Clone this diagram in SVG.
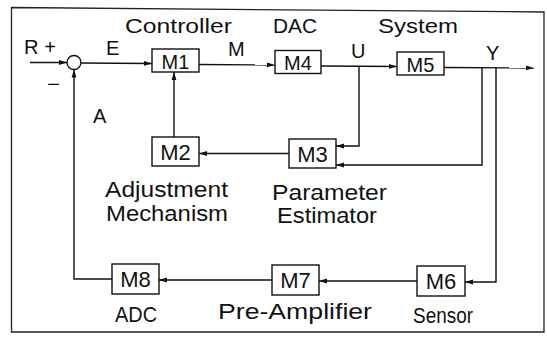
<svg xmlns="http://www.w3.org/2000/svg" width="547" height="337" viewBox="0 0 547 337">
<defs>
<style>
.frame{fill:none;stroke:#222;stroke-width:1.3}
.box{fill:#fff;stroke:#111;stroke-width:1.4}
.ln{fill:none;stroke:#111;stroke-width:1.4}
.t{font-family:"Liberation Sans",Arial,sans-serif;fill:#111}
.bl{font-size:20px;text-anchor:middle}
.bl2{font-size:22px;text-anchor:middle}
.lt{font-size:20px}
.lb{font-size:22px}
</style>
<marker id="ah" viewBox="0 0 8 6" refX="8" refY="3" markerWidth="8" markerHeight="6" markerUnits="userSpaceOnUse" orient="auto">
<path d="M0,0.6 L8,3 L0,5.4 Z" fill="#111"/>
</marker>
</defs>
<rect width="547" height="337" fill="#fff"/>
<path class="frame" d="M11.5,7.5 L544,12 L544,332 L11.5,332 Z"/>

<g id="connectors">
<path class="ln" d="M30,62.5 L67,62.5" marker-end="url(#ah)"/>
<path class="ln" d="M81,63 L152,63.5" marker-end="url(#ah)"/>
<path class="ln" d="M199,64.5 L275,65" marker-end="url(#ah)"/>
<path class="ln" d="M321,66 L397,66.5" marker-end="url(#ah)"/>
<path class="ln" d="M444,67.5 L534,68" marker-end="url(#ah)"/>
<path class="ln" d="M359,66.3 L359,146 L336,146" marker-end="url(#ah)"/>
<path class="ln" d="M482,67.7 L482,165 L336,165" marker-end="url(#ah)"/>
<path class="ln" d="M496,67.8 L496,282 L465,282" marker-end="url(#ah)"/>
<path class="ln" d="M417,281 L319,281" marker-end="url(#ah)"/>
<path class="ln" d="M272,280 L159,280" marker-end="url(#ah)"/>
<path class="ln" d="M112,279 L74,279 L74,69.5" marker-end="url(#ah)"/>
<path class="ln" d="M289,153.5 L199,153.5" marker-end="url(#ah)"/>
<path class="ln" d="M174,137 L174,72" marker-end="url(#ah)"/>
</g>

<g id="sum">
<circle class="box" cx="74" cy="62.5" r="7"/>
</g>
<g id="M1"><rect class="box" x="152" y="49" width="47" height="23"/><text class="t bl" x="175.5" y="68.5">M1</text></g>
<g id="M4"><rect class="box" x="275" y="50.5" width="46" height="23"/><text class="t bl" x="298" y="70">M4</text></g>
<g id="M5"><rect class="box" x="397" y="52" width="47" height="23"/><text class="t bl" x="420.5" y="71.5">M5</text></g>
<g id="M2"><rect class="box" x="152" y="137" width="47" height="29"/><text class="t bl2" x="175.5" y="160">M2</text></g>
<g id="M3"><rect class="box" x="289" y="139" width="47" height="29"/><text class="t bl2" x="312.5" y="162">M3</text></g>
<g id="M8"><rect class="box" x="112" y="264" width="47" height="30"/><text class="t bl2" x="135.5" y="287">M8</text></g>
<g id="M7"><rect class="box" x="272" y="265" width="47" height="30"/><text class="t bl2" x="295.5" y="288">M7</text></g>
<g id="M6"><rect class="box" x="417" y="266" width="48" height="30"/><text class="t bl2" x="441" y="289">M6</text></g>

<g id="labels">
<text class="t lt" x="125" y="33" textLength="107" lengthAdjust="spacingAndGlyphs">Controller</text>
<text class="t lt" x="273" y="33" textLength="44" lengthAdjust="spacingAndGlyphs">DAC</text>
<text class="t lt" x="378" y="33" textLength="80" lengthAdjust="spacingAndGlyphs">System</text>
<text class="t lt" x="24" y="54" textLength="32" lengthAdjust="spacingAndGlyphs">R +</text>
<text class="t lt" x="106" y="55">E</text>
<text class="t lt" x="228" y="56">M</text>
<text class="t lt" x="351" y="58">U</text>
<text class="t lt" x="486" y="60">Y</text>
<text class="t lt" x="47" y="91" textLength="13" lengthAdjust="spacingAndGlyphs">−</text>
<text class="t lt" x="93" y="123">A</text>
<text class="t lb" x="105" y="197" textLength="123" lengthAdjust="spacingAndGlyphs">Adjustment</text>
<text class="t lb" x="106" y="221" textLength="122" lengthAdjust="spacingAndGlyphs">Mechanism</text>
<text class="t lb" x="272" y="200" textLength="115" lengthAdjust="spacingAndGlyphs">Parameter</text>
<text class="t lb" x="277" y="223" textLength="100" lengthAdjust="spacingAndGlyphs">Estimator</text>
<text class="t lb" x="115" y="322" textLength="42" lengthAdjust="spacingAndGlyphs">ADC</text>
<text class="t lb" x="218" y="319" textLength="154" lengthAdjust="spacingAndGlyphs">Pre-Amplifier</text>
<text class="t lb" x="413" y="323" textLength="60" lengthAdjust="spacingAndGlyphs">Sensor</text>
</g>
</svg>
